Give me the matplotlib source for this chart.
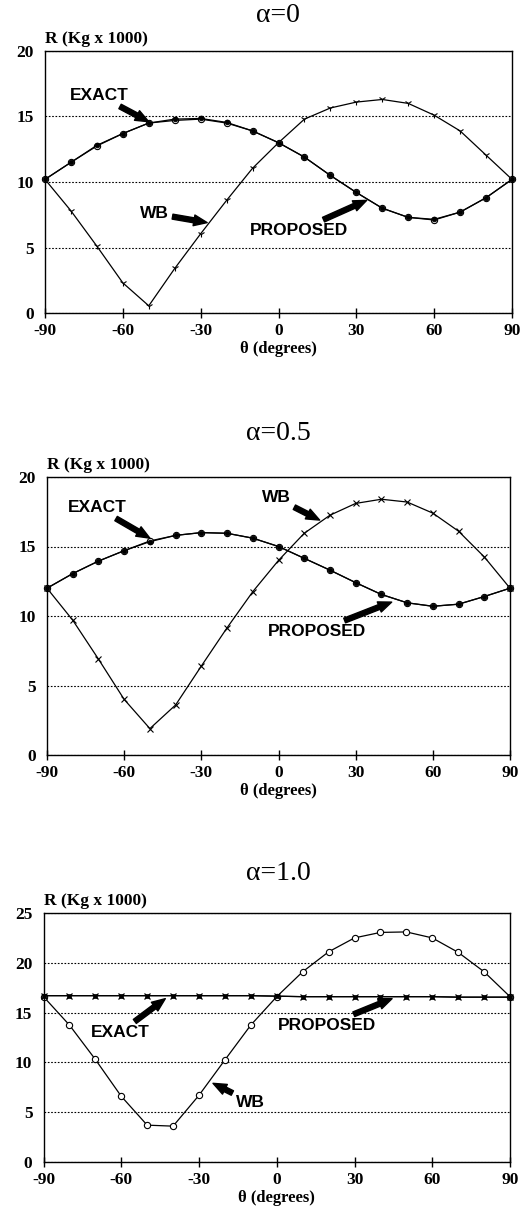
import matplotlib
matplotlib.use("Agg")
import matplotlib.pyplot as plt

# ---------------- data ----------------
theta = [-90, -80, -70, -60, -50, -40, -30, -20, -10, 0, 10, 20, 30, 40, 50, 60, 70, 80, 90]
x_ticks = [-90, -60, -30, 0, 30, 60, 90]

titles = ["\u03b1=0", "\u03b1=0.5", "\u03b1=1.0"]

# alpha = 0
exact_a0 = [10.2, 11.5, 12.75, 13.7, 14.5, 14.7, 14.8, 14.5, 13.9, 13.0, 11.9, 10.5, 9.2, 8.0, 7.3, 7.1, 7.7, 8.8, 10.2]
prop_a0 = [10.2, 11.5, 12.8, 13.7, 14.5, 14.8, 14.85, 14.55, 13.9, 13.0, 11.9, 10.5, 9.2, 8.0, 7.3, 7.15, 7.7, 8.8, 10.2]
wb_a0 = [10.2, 7.8, 5.1, 2.3, 0.55, 3.4, 6.05, 8.6, 11.05, 13.0, 14.8, 15.65, 16.1, 16.3, 16.0, 15.1, 13.9, 12.05, 10.2]

# alpha = 0.5
exact_a05 = [12.0, 13.05, 13.95, 14.7, 15.4, 15.8, 16.0, 15.95, 15.6, 15.0, 14.15, 13.3, 12.4, 11.55, 10.95, 10.7, 10.85, 11.4, 12.0]
prop_a05 = [12.0, 13.05, 13.95, 14.7, 15.35, 15.8, 16.0, 15.95, 15.6, 15.0, 14.15, 13.3, 12.4, 11.55, 10.95, 10.7, 10.85, 11.4, 12.0]
wb_a05 = [12.0, 9.7, 6.9, 4.0, 1.9, 3.6, 6.4, 9.15, 11.75, 14.0, 15.95, 17.25, 18.1, 18.4, 18.2, 17.4, 16.1, 14.25, 12.0]

# alpha = 1.0
exact_a1 = [16.7, 16.7, 16.7, 16.7, 16.7, 16.7, 16.7, 16.7, 16.7, 16.65, 16.6, 16.6, 16.6, 16.6, 16.6, 16.6, 16.55, 16.55, 16.55]
prop_a1 = [16.7, 16.7, 16.7, 16.7, 16.7, 16.7, 16.7, 16.7, 16.7, 16.65, 16.6, 16.6, 16.6, 16.6, 16.6, 16.6, 16.55, 16.55, 16.55]
wb_a1 = [16.6, 13.75, 10.3, 6.6, 3.7, 3.6, 6.7, 10.25, 13.75, 16.6, 19.1, 21.1, 22.5, 23.05, 23.1, 22.5, 21.05, 19.1, 16.6]

y_ticks_a = [0, 5, 10, 15, 20]
y_ticks_b = [0, 5, 10, 15, 20, 25]

# ---------------- layout ----------------
W, H = 532, 1215
fig = plt.figure(figsize=(W / 100, H / 100), dpi=100)
fig.patch.set_facecolor("white")

SERIF = ["Liberation Serif", "DejaVu Serif"]
SANS = ["Liberation Sans", "DejaVu Sans"]


def rect(left, right, top, bottom):
    return [left / W, 1 - bottom / H, (right - left) / W, (bottom - top) / H]


def add_panel(r, ylim, yticks):
    ax = fig.add_axes(rect(*r))
    ax.set_xlim(-90, 90)
    ax.set_ylim(*ylim)
    ax.set_xticks(x_ticks)
    ax.set_yticks(yticks)
    ax.set_xticklabels([str(v) for v in x_ticks], fontfamily=SERIF, fontweight="bold", fontsize=12.5)
    ax.set_yticklabels([str(v) for v in yticks], fontfamily=SERIF, fontweight="bold", fontsize=12.5)
    ax.tick_params(axis="x", direction="inout", length=7, width=1, pad=4)
    ax.tick_params(axis="y", length=0, pad=8)
    for s in ax.spines.values():
        s.set_linewidth(1.0)
        s.set_color("black")
    ax.yaxis.grid(True, linestyle=(0, (1.5, 1.5)), color="black", linewidth=0.8)
    ax.set_axisbelow(True)
    ax.annotate("R (Kg x 1000)", xy=(0, 1), xycoords="axes fraction",
                xytext=(0, 4), textcoords="offset pixels", ha="left", va="bottom",
                fontfamily=SERIF, fontweight="bold", fontsize=12.5)
    ax.annotate("\u03b8 (degrees)", xy=(0.5, 0), xycoords="axes fraction",
                xytext=(0, -36), textcoords="offset pixels", ha="center", va="center",
                fontfamily=SERIF, fontweight="bold", fontsize=12)
    return ax


def label(ax, text, xytext, xy):
    ax.annotate(text, xy=xy, xytext=xytext, ha="center", va="center",
                fontfamily=SANS, fontweight="bold", fontsize=12.5,
                arrowprops=dict(arrowstyle="simple,head_length=0.8,head_width=0.65,tail_width=0.3",
                                color="black", shrinkA=1, shrinkB=0, mutation_scale=12))


def title(text, ycen):
    fig.text(278 / W, 1 - ycen / H, text, ha="center", va="center",
             fontfamily=SERIF, fontsize=20)


lw = 0.9

# ---- panel 1 ----
ax1 = add_panel((45, 512, 51, 313), (0, 20), y_ticks_a)
title(titles[0], 15)
ax1.plot(theta, wb_a0, color="black", lw=lw, marker="1", ms=5, mew=0.8, clip_on=False)
ax1.plot(theta, exact_a0, color="black", lw=lw, marker="o", ms=4.5, mfc="white", mew=0.8, clip_on=False)
ax1.plot(theta, prop_a0, color="black", lw=lw, marker="o", ms=3.5, mfc="black", mew=0.5, clip_on=False)
label(ax1, "EXACT", (-69, 16.6), (-50, 14.6))
label(ax1, "WB", (-48, 7.6), (-27.5, 6.9))
label(ax1, "PROPOSED", (8, 6.3), (34, 8.6))

# ---- panel 2 ----
ax2 = add_panel((47, 510, 477, 755), (0, 20), y_ticks_a)
title(titles[1], 434)
ax2.plot(theta, wb_a05, color="black", lw=lw, marker="x", ms=4.5, mew=0.8, clip_on=False)
ax2.plot(theta, exact_a05, color="black", lw=lw, marker="o", ms=4.5, mfc="white", mew=0.8, clip_on=False)
ax2.plot(theta, prop_a05, color="black", lw=lw, marker="o", ms=3.5, mfc="black", mew=0.5, clip_on=False)
label(ax2, "EXACT", (-70.5, 17.8), (-50, 15.6))
label(ax2, "WB", (-1, 18.5), (16, 16.9))
label(ax2, "PROPOSED", (15, 8.9), (44, 11.0))

# ---- panel 3 ----
ax3 = add_panel((43.5, 510, 913, 1162), (0, 25), y_ticks_b)
title(titles[2], 874)
ax3.plot(theta, wb_a1, color="black", lw=lw, marker="o", ms=4.5, mfc="white", mew=0.8, clip_on=False)
ax3.plot(theta, exact_a1, color="black", lw=lw, marker="x", ms=4, mew=0.9, clip_on=False)
ax3.plot(theta, prop_a1, color="black", lw=lw, marker="s", ms=3, mfc="black", mew=0.5, clip_on=False)
label(ax3, "EXACT", (-60.5, 13.0), (-43, 16.4))
label(ax3, "PROPOSED", (19.5, 13.75), (44.5, 16.4))
label(ax3, "WB", (-10, 6.0), (-24.6, 7.9))

fig.savefig("out.png", dpi=100, facecolor="white")
